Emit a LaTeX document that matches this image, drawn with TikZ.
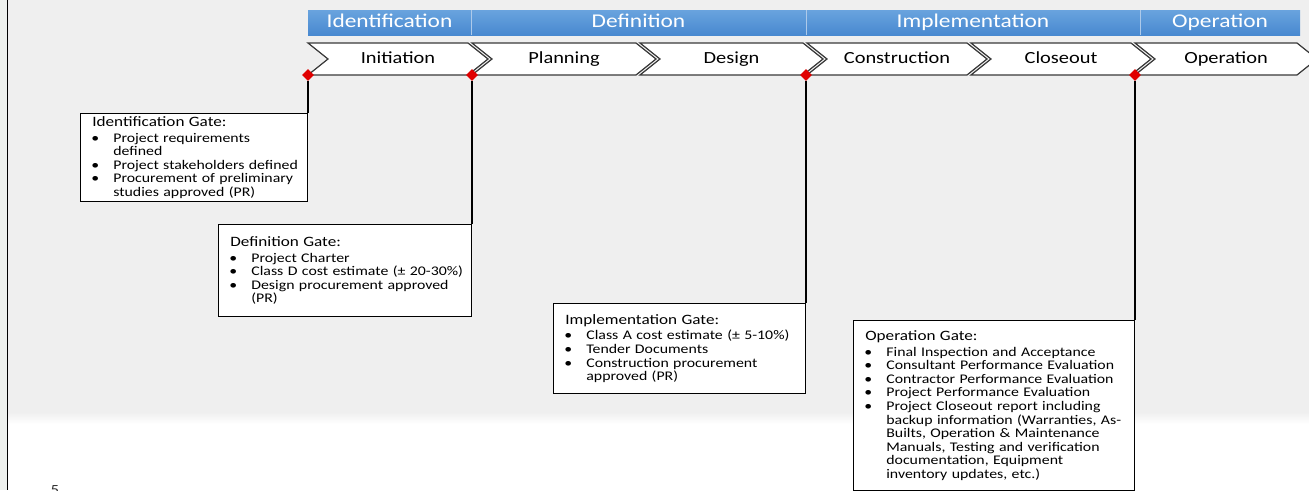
\documentclass[tikz,border=0pt]{standalone}
\usepackage{fontspec}
\setmainfont{Carlito}[FakeStretch=1.2]
\usepackage{enumitem}
\usetikzlibrary{shapes.geometric}
\definecolor{slidegray}{HTML}{EFEFEF}
\definecolor{edgegray}{HTML}{EDF0ED}
\definecolor{phaseblue}{HTML}{4889D0}
\definecolor{phasetop}{HTML}{69A3DE}
\definecolor{chevline}{HTML}{3A3A3A}
\definecolor{gatered}{HTML}{E00000}
\setlist[itemize]{nosep, leftmargin=27pt, labelsep=14pt, label=\textbullet}
\newcommand\gatetitle[1]{\hspace*{6pt}{\fontsize{14.3}{16}\selectfont #1}\par\vspace{2pt}}
\tikzset{phase/.style = {text=white, font=\fontsize{19.5}{22}\selectfont,
                         text height=14pt, text depth=4pt},
         chevron/.style = {draw=chevline, fill=white, line width=1.2pt},
         stage/.style = {font=\fontsize{17}{20}\selectfont, text height=12pt, text depth=4pt},
         gate/.style = {diamond, fill=gatered, inner sep=0pt, minimum size=12pt},
         gatebox/.style = {draw, fill=white, line width=1.3pt, anchor=north east,
                           inner xsep=6pt, inner ysep=3pt,
                           font=\fontsize{13.2}{13.6}\selectfont},
         gateline/.style = {line width=1.4pt}}

\begin{document}
\begin{tikzpicture}[x=1pt, y=-1pt]
    \useasboundingbox (0, 0) rectangle (1309, 490);

    \fill [edgegray] (0, 0) rectangle (7, 490);
    \fill [slidegray] (7, 0) rectangle (1309, 412);
    \shade [top color=slidegray, bottom color=white] (7, 412) rectangle (1309, 424);
    \fill [white] (7, 424) rectangle (1309, 490);
    \draw [line width=1.6pt] (7.5, 0) -- (7.5, 490);

    \foreach \x/\xx/\phasename in {308/471/Identification, 471/806/Definition,
                                   806/1140/Implementation, 1140/1300/Operation} {
      \shade [top color=phasetop, bottom color=phaseblue] (\x, 10) rectangle (\xx, 35);
      \node [phase] (phase-\phasename) at ({(\x + \xx) / 2}, 22.5) {\phasename};
    }
    \foreach \x in {471, 806, 1140}
      \draw [white!55!phaseblue, line width=0.8pt] (\x, 10) -- (\x, 35);

    \foreach \x/\xx/\stagename in {308/468/Initiation, 472/636/Planning, 640/803/Design,
                                   807/967/Construction, 971/1131/Closeout, 1135/1297/Operation} {
      \draw [chevron] (\x, 43) -- (\xx, 43) -- (\xx + 20, 59) -- (\xx, 75) -- (\x, 75)
                      -- (\x + 20, 59) -- cycle;
      \node [stage] (stage-\stagename) at ({(\x + \xx) / 2 + 10}, 59) {\stagename};
    }

    \node [gate] (gid) at (308, 75) {};
    \node [gate] (gdef) at (472, 75) {};
    \node [gate] (gimp) at (806, 75) {};
    \node [gate] (gop) at (1135, 75) {};

    \node [gatebox, text width=215pt, minimum height=86pt] (nid) at (gid |- 0,113) {\raggedright
      \gatetitle{Identification Gate:}
      \begin{itemize}
        \item Project requirements\newline defined
        \item Project stakeholders defined
        \item Procurement of preliminary\newline studies approved (PR)
      \end{itemize}};

    \node [gatebox, text width=241pt, minimum height=92pt] (ndef) at (gdef |- 0,224) {\raggedright
      \gatetitle{Definition Gate:}
      \begin{itemize}
        \item Project Charter
        \item Class D cost estimate (± 20-30\%)
        \item Design procurement approved\newline (PR)
      \end{itemize}};

    \node [gatebox, text width=240pt, minimum height=90pt] (nimp) at (gimp |- 0,303) {\raggedright
      \gatetitle{Implementation Gate:}
      \begin{itemize}
        \item Class A cost estimate (± 5-10\%)
        \item Tender Documents
        \item Construction procurement\newline approved (PR)
      \end{itemize}};

    \node [gatebox, text width=269pt, minimum height=170pt] (nop) at (gop |- 0,320) {\raggedright
      \gatetitle{Operation Gate:}
      \begin{itemize}
        \item Final Inspection and Acceptance
        \item Consultant Performance Evaluation
        \item Contractor Performance Evaluation
        \item Project Performance Evaluation
        \item Project Closeout report including\newline backup information (Warranties, As-\newline
              Builts, Operation \& Maintenance\newline Manuals, Testing and verification\newline
              documentation, Equipment\newline inventory updates, etc.)
      \end{itemize}};

    \draw [gateline] (gid.south) -- (nid.north east);
    \draw [gateline] (gdef.south) -- (ndef.north east);
    \draw [gateline] (gimp.south) -- (nimp.north east);
    \draw [gateline] (gop.south) -- (nop.north east);

    \node [anchor=north, text=black!80, font=\fontsize{14}{16}\selectfont] (pageno) at (55, 482) {5};
  \end{tikzpicture}
\end{document}
